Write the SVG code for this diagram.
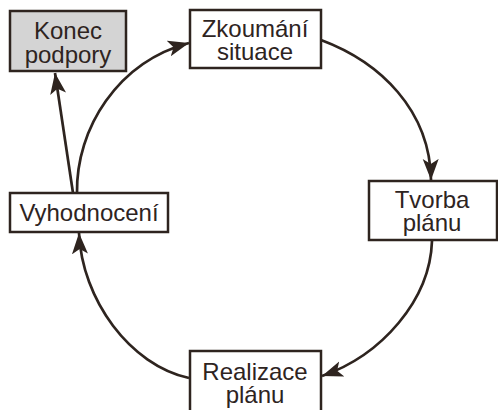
<svg xmlns="http://www.w3.org/2000/svg" width="498" height="410" viewBox="0 0 498 410">
<style>
.box{fill:#fff;stroke:#2e241f;stroke-width:2.5}
.gray{fill:#d4d4d4}
.lbl{font-family:"Liberation Sans",Arial,sans-serif;font-size:24px;fill:#2e241f;text-anchor:middle}
.edge{fill:none;stroke:#2e241f;stroke-width:2.7}
</style>
<defs>
<marker id="ah" markerUnits="userSpaceOnUse" markerWidth="24" markerHeight="18" refX="21" refY="8" orient="auto" viewBox="0 0 24 18">
<path d="M0,0 L21,8 L0,16 L5,8 z" fill="#2e241f"/>
</marker>
</defs>
<g id="connectors">
<path class="edge" d="M73,193 L55,73" marker-end="url(#ah)"/>
<path class="edge" d="M77,193 C76,128 118,62 189,43" marker-end="url(#ah)"/>
<path class="edge" d="M321,40 C380,62 430,110 431,180" marker-end="url(#ah)"/>
<path class="edge" d="M432,241 C430,300 382,355 322,376" marker-end="url(#ah)"/>
<path class="edge" d="M189,378 C130,365 82,300 79,233" marker-end="url(#ah)"/>
</g>
<g id="konec">
<rect class="box gray" x="10" y="11" width="116" height="60"/>
<text class="lbl" x="68" y="39">Konec</text>
<text class="lbl" x="68" y="63">podpory</text>
</g>
<g id="zkoumani">
<rect class="box" x="190" y="10" width="131" height="58"/>
<text class="lbl" x="255" y="37">Zkoumání</text>
<text class="lbl" x="255" y="60">situace</text>
</g>
<g id="tvorba">
<rect class="box" x="369" y="181" width="128" height="59"/>
<text class="lbl" x="432" y="208">Tvorba</text>
<text class="lbl" x="432" y="231">plánu</text>
</g>
<g id="realizace">
<rect class="box" x="190" y="351" width="131" height="62"/>
<text class="lbl" x="255" y="380">Realizace</text>
<text class="lbl" x="255" y="403">plánu</text>
</g>
<g id="vyhodnoceni">
<rect class="box" x="10" y="193" width="158" height="39"/>
<text class="lbl" x="89" y="221">Vyhodnocení</text>
</g>
</svg>
